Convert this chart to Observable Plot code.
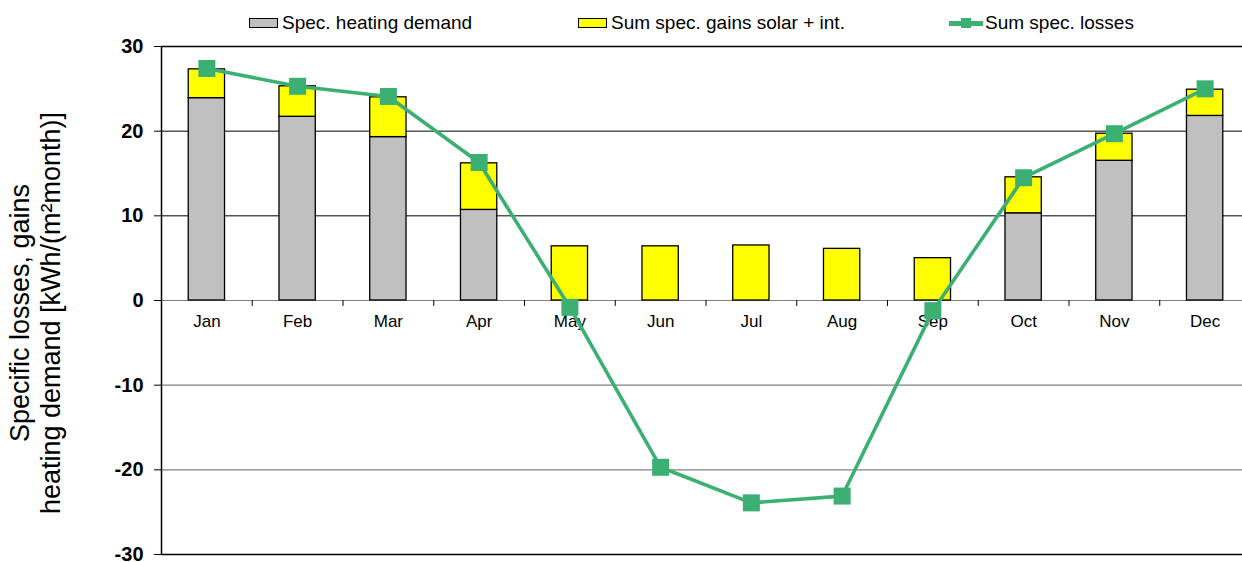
<!DOCTYPE html>
<html>
<head>
<meta charset="utf-8">
<script src="https://cdn.jsdelivr.net/npm/d3@7"></script>
<script src="https://cdn.jsdelivr.net/npm/@observablehq/plot@0.6"></script>
<style>
  html, body { margin: 0; padding: 0; background: #fff; overflow: hidden; }
  body { font-family: "Liberation Sans", Arial, sans-serif; }
  #wrap { position: relative; width: 1242px; height: 562px; overflow: hidden; }
  #legend { position: absolute; top: 0; left: 0; width: 1242px; height: 45px; font-size: 19px; color: #000; }
  .item { position: absolute; top: 12px; display: flex; align-items: center; height: 22px; white-space: nowrap; }
  .sw { width: 27px; height: 8px; border: 1px solid #000; margin-right: 4px; }
  .ln { position: relative; width: 34px; height: 5px; margin-right: 2px; }
  .ln::after { content: ""; position: absolute; left: 12px; top: -2.5px; width: 10px; height: 10px; background: inherit; }
  #ytitle { position: absolute; left: 36px; top: 313px; width: 470px; transform: translate(-50%, -50%) rotate(-90deg);
            text-align: center; font-size: 27px; line-height: 31px; color: #000; white-space: nowrap; }
</style>
</head>
<body>
<div id="wrap">
  <div id="chart"></div>
  <div id="legend"></div>
  <div id="ytitle"></div>
</div>
<script>
const months = ["Jan","Feb","Mar","Apr","May","Jun","Jul","Aug","Sep","Oct","Nov","Dec"];
const heatingDemand = [23.9, 21.7, 19.3, 10.7, 0, 0, 0, 0, 0, 10.3, 16.5, 21.8];
const gainsSolarInt = [3.4, 3.6, 4.7, 5.5, 6.4, 6.4, 6.5, 6.1, 5.0, 4.25, 3.2, 3.1];
const specLosses = [27.4, 25.3, 24.1, 16.3, -0.8, -19.7, -23.9, -23.1, -1.2, 14.5, 19.7, 25.0];
const yTicks = [-30, -20, -10, 0, 10, 20, 30];
const seriesNames = ["Spec. heating demand", "Sum spec. gains solar + int.", "Sum spec. losses"];
const titleLines = ["Specific losses, gains", "heating demand [kWh/(m\u00B2month)]"];

const colors = {heat: "#c0c0c0", gain: "#ffff00", loss: "#3cb073"};

const barRows = [];
months.forEach((m, i) => {
  barRows.push({month: m, series: seriesNames[0], value: heatingDemand[i]});
  barRows.push({month: m, series: seriesNames[1], value: gainsSolarInt[i]});
});
const lossRows = months.map((m, i) => ({month: m, value: specLosses[i]}));

const W = 1242, H = 562;
const xRange = [161, 1250];
const step = (xRange[1] - xRange[0]) / months.length;

const chart = Plot.plot({
  width: W, height: H,
  marginTop: 46, marginBottom: 8, marginLeft: 161, marginRight: 0,
  style: {fontFamily: "'Liberation Sans', Arial, sans-serif", background: "#fff", color: "#000"},
  x: {domain: months, range: xRange, paddingInner: 0.6, paddingOuter: 0.3, round: false, axis: null},
  y: {domain: [-30, 30], axis: null},
  color: {domain: seriesNames.slice(0, 2), range: [colors.heat, colors.gain]},
  marks: [
    Plot.ruleY([20, 10], {stroke: "#000", strokeWidth: 1}),
    Plot.ruleY([0, -10, -20], {stroke: "#808080", strokeWidth: 1.2}),
    Plot.ruleY([30, -30], {stroke: "#000", strokeWidth: 1.5}),
    Plot.axisY({ticks: yTicks, tickSize: 7, tickPadding: 11, fontSize: 20, fontWeight: "bold",
                label: null, tickFormat: d => String(d), stroke: "#000"}),
    Plot.ruleX([months[0]], {x: d => d, dx: -step / 2, y1: -30, y2: 30, stroke: "#000", strokeWidth: 1.5}),
    Plot.ruleX(months.slice(1), {x: d => d, dx: -step / 2, y1: 0, y2: -0.7, stroke: "#000", strokeWidth: 1}),
    Plot.barY(barRows, {x: "month", y: "value", fill: "series", stroke: "#000", strokeWidth: 1.3,
                        order: seriesNames.slice(0, 2)}),
    Plot.text(months, {x: d => d, y: 0, dy: 21, text: d => d, fontSize: 17, fill: "#000"}),
    Plot.line(lossRows, {x: "month", y: "value", stroke: colors.loss, strokeWidth: 3.6}),
    Plot.dot(lossRows, {x: "month", y: "value", symbol: "square", r: 9.6, fill: colors.loss, stroke: "none"})
  ]
});
document.getElementById("chart").appendChild(chart);

// legend
const legend = document.getElementById("legend");
const legendItems = [
  {name: seriesNames[0], kind: "sw", color: colors.heat, left: 249},
  {name: seriesNames[1], kind: "sw", color: colors.gain, left: 578},
  {name: seriesNames[2], kind: "ln", color: colors.loss, left: 949}
];
legendItems.forEach(it => {
  const d = document.createElement("div");
  d.className = "item";
  d.style.left = it.left + "px";
  const s = document.createElement("span");
  s.className = it.kind;
  s.style.background = it.color;
  d.appendChild(s);
  const t = document.createElement("span");
  t.textContent = it.name;
  d.appendChild(t);
  legend.appendChild(d);
});

// y title
const yt = document.getElementById("ytitle");
titleLines.forEach(l => { const d = document.createElement("div"); d.textContent = l; yt.appendChild(d); });
</script>
</body>
</html>
